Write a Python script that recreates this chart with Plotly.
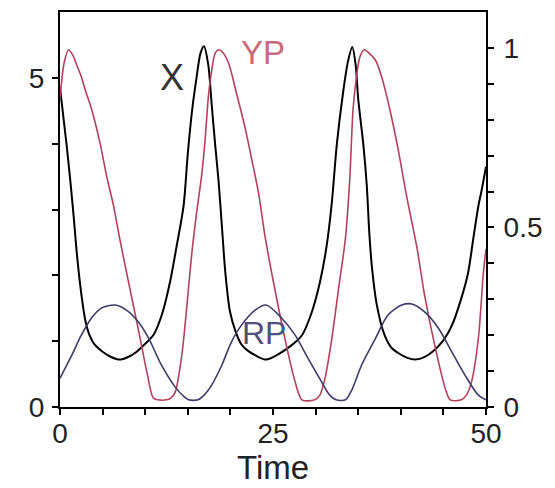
import plotly.graph_objects as go

# ---- data ----
t_X = [0, 0.4, 0.8, 1.2, 1.6, 2.0, 2.5, 3.0, 3.5, 4.0, 5.0, 6.0, 7.0, 8.0, 9.0, 10.0, 11.0, 12.0,
       12.9, 13.7, 14.5, 15.0, 15.5, 16.0, 16.5, 16.9, 17.4, 17.8, 18.2, 18.6, 19.0, 19.4, 19.95,
       20.6, 21.3, 22.0, 23.0, 24.2, 25.6, 27.2, 28.4, 29.5, 30.5, 31.3, 31.9, 32.5, 33.25, 33.8,
       34.3, 34.7, 35.0, 35.6, 36.0, 36.3, 36.6, 37.2, 38.1, 38.9, 39.7, 40.7, 41.7, 43.2, 44.8,
       46.0, 47.1, 47.9, 48.5, 49.1, 49.5, 50.0]
X = [4.85, 4.4, 3.95, 3.45, 2.9, 2.3, 1.72, 1.3, 1.08, 0.96, 0.84, 0.76, 0.72, 0.76, 0.84, 0.96, 1.1, 1.42,
     1.89, 2.45, 3.05, 3.85, 4.5, 4.98, 5.38, 5.48, 5.2, 4.6, 4.0, 3.45, 2.75, 2.05, 1.45,
     1.15, 0.95, 0.86, 0.78, 0.72, 0.8, 0.94, 1.09, 1.42, 1.89, 2.45, 3.1, 4.0, 4.8, 5.25,
     5.47, 5.2, 4.68, 3.99, 3.38, 2.65, 2.14, 1.54, 1.09, 0.9, 0.82, 0.75, 0.72, 0.79, 0.98,
     1.24, 1.65, 2.04, 2.55, 3.05, 3.3, 3.65]

t_YP = [0, 0.5, 1.0, 1.5, 2.0, 2.5, 3.0, 3.7, 4.7, 5.5, 6.26, 7.0, 7.8, 8.6, 9.4, 10.2, 10.95, 11.5,
        12.5, 13.0, 13.5, 14.3, 14.9, 15.45, 16.0, 16.6, 17.0, 17.4, 17.7, 18.2, 18.6, 19.0, 19.75,
        20.7, 21.7, 22.5, 23.3, 24.1, 25.2, 26.4, 27.6, 28.4, 29.9, 30.5, 31.1, 31.9, 32.7, 33.5,
        34.0, 34.4, 34.8, 35.2, 35.7, 36.3, 37.0, 37.75, 38.7, 39.7, 40.7, 41.9, 42.8, 44.0, 45.2,
        45.8, 47.1, 47.7, 48.3, 49.1, 49.7, 50.0]
YP = [0.86, 0.96, 0.995, 0.98, 0.95, 0.92, 0.88, 0.83, 0.735, 0.64, 0.563, 0.47, 0.376, 0.284, 0.192,
      0.097, 0.025, 0.02, 0.02, 0.025, 0.04, 0.145, 0.284, 0.423, 0.535, 0.64, 0.735, 0.86, 0.92,
      0.985, 0.995, 0.99, 0.96, 0.875, 0.78, 0.69, 0.596, 0.47, 0.33, 0.19, 0.07, 0.02, 0.02, 0.033,
      0.08, 0.19, 0.33, 0.47, 0.63, 0.83, 0.92, 0.975, 0.995, 0.985, 0.967, 0.92, 0.83, 0.716,
      0.585, 0.443, 0.31, 0.17, 0.053, 0.02, 0.02, 0.033, 0.07, 0.19, 0.376, 0.44]

t_RP = [0, 1.4, 2.5, 3.7, 4.9, 6.45, 7.8, 9.2, 10.4, 11.9, 13.5, 14.5, 15.1, 16.2, 17.0, 17.8, 19.0,
        20.1, 21.3, 22.9, 24.2, 26.0, 27.6, 29.1, 30.7, 31.6, 32.4, 33.5, 34.3, 35.4, 37.0, 38.5,
        40.1, 41.3, 42.8, 44.4, 46.0, 47.5, 49.1, 50.0]
RP = [0.08, 0.145, 0.2, 0.248, 0.276, 0.284, 0.27, 0.237, 0.192, 0.117, 0.056, 0.03, 0.02, 0.02,
      0.035, 0.061, 0.117, 0.18, 0.228, 0.27, 0.284, 0.248, 0.2, 0.136, 0.07, 0.035, 0.02, 0.02,
      0.05, 0.117, 0.19, 0.256, 0.284, 0.287, 0.265, 0.22, 0.153, 0.09, 0.033, 0.02]

x_tick_vals = [0, 5, 10, 15, 20, 25, 30, 35, 40, 45, 50]
x_tick_text = ["0", "", "", "", "", "25", "", "", "", "", "50"]
y_tick_vals = [0, 1, 2, 3, 4, 5]
y_tick_text = ["0", "", "", "", "", "5"]
y2_tick_vals = [0, 0.1, 0.2, 0.3, 0.4, 0.5, 0.6, 0.7, 0.8, 0.9, 1.0]
y2_tick_text = ["0", "", "", "", "", "0.5", "", "", "", "", "1"]
x_title = "Time"

FONT = "Liberation Sans, Arial, sans-serif"

fig = go.Figure()
fig.add_trace(go.Scatter(x=t_YP, y=YP, mode="lines", yaxis="y2",
                         line=dict(color="#b5405c", width=1.6, shape="spline", smoothing=0.8),
                         showlegend=False))
fig.add_trace(go.Scatter(x=t_RP, y=RP, mode="lines", yaxis="y2",
                         line=dict(color="#3c3c6c", width=1.6, shape="spline", smoothing=0.8),
                         showlegend=False))
fig.add_trace(go.Scatter(x=t_X, y=X, mode="lines", yaxis="y",
                         line=dict(color="#000000", width=2, shape="spline", smoothing=0.8),
                         showlegend=False))

fig.add_annotation(x=13.1, y=5.0, xref="x", yref="y", text="X", showarrow=False,
                   font=dict(family=FONT, size=36, color="#333333"))
fig.add_annotation(x=23.8, y=5.39, xref="x", yref="y", text="YP", showarrow=False,
                   font=dict(family=FONT, size=33, color="#c86a78"))
fig.add_annotation(x=24.0, y=1.13, xref="x", yref="y", text="RP", showarrow=False,
                   font=dict(family=FONT, size=32, color="#505080"))
# x-axis title, placed below the tick labels
fig.add_annotation(x=0.5, y=-0.153, xref="paper", yref="paper", text=x_title, showarrow=False,
                   yanchor="middle", borderpad=0,
                   font=dict(family=FONT, size=33, color="#222222"))

axis_common = dict(showline=True, linecolor="black", linewidth=2, ticks="outside",
                   ticklen=6, tickwidth=1.5, tickcolor="black", showgrid=False, zeroline=False,
                   automargin=False,
                   tickfont=dict(family=FONT, size=28, color="#222222"))

fig.update_layout(
    width=555, height=488,
    margin=dict(l=60, r=69, t=12, b=81),
    paper_bgcolor="white", plot_bgcolor="white",
    xaxis=dict(range=[0, 50], tickmode="array", tickvals=x_tick_vals, ticktext=x_tick_text,
               mirror=True, ticklabelstandoff=-6, **axis_common),
    yaxis=dict(range=[0, 6], tickmode="array", tickvals=y_tick_vals, ticktext=y_tick_text,
               ticklabelstandoff=2, **axis_common),
    yaxis2=dict(range=[0, 1.1], tickmode="array", tickvals=y2_tick_vals, ticktext=y2_tick_text,
                overlaying="y", side="right", ticklabelstandoff=4, **axis_common),
)

fig.write_html("out.html")
